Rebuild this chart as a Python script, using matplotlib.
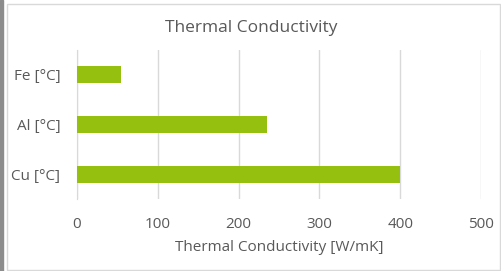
import matplotlib.pyplot as plt
from matplotlib.patches import Rectangle

categories = ["Fe [°C]", "Al [°C]", "Cu [°C]"]
values = [54, 235, 400]
x_ticks = [0, 100, 200, 300, 400, 500]

W, H = 501, 271
bar_color = "#95C00F"
text_color = "#595959"
grid_color = "#D9D9D9"

plt.rcParams["font.family"] = ["Open Sans", "DejaVu Sans"]

fig = plt.figure(figsize=(W / 100, H / 100), dpi=100)

# outer chart frame and the dark strip on the left edge
fig.patches.append(Rectangle((0, 0), 3 / W, 1, transform=fig.transFigure,
                             color="#8C8C8C", zorder=0))
fig.patches.append(Rectangle((6.5 / W, 1 - 269.5 / H), 493.5 / W, 266 / H,
                             transform=fig.transFigure, fill=False,
                             edgecolor="#D9D9D9", lw=1, zorder=0))

ax = fig.add_axes([77 / W, 1 - 199 / H, (481 - 77) / W, (199 - 50) / H])
ax.barh(range(len(categories)), values, height=0.34, color=bar_color, zorder=3)
ax.set_ylim(2.5, -0.5)
ax.set_xlim(0, 500)
ax.set_yticks(range(len(categories)))
ax.set_yticklabels(categories)
ax.set_xticks(x_ticks)

ax.grid(axis="x", color=grid_color, lw=1, zorder=0)
for s in ["top", "right", "bottom"]:
    ax.spines[s].set_visible(False)
ax.spines["left"].set_color(grid_color)
ax.tick_params(length=0, labelsize=11, labelcolor=text_color)
ax.tick_params(axis="y", pad=12)
ax.tick_params(axis="x", pad=13)
ax.set_xlabel("Thermal Conductivity [W/mK]", fontsize=11, color=text_color, labelpad=6)

fig.text(251 / W, 1 - 28 / H, "Thermal Conductivity", ha="center", va="center",
         fontsize=12.5, color=text_color)

fig.savefig("out.png", dpi=100)
